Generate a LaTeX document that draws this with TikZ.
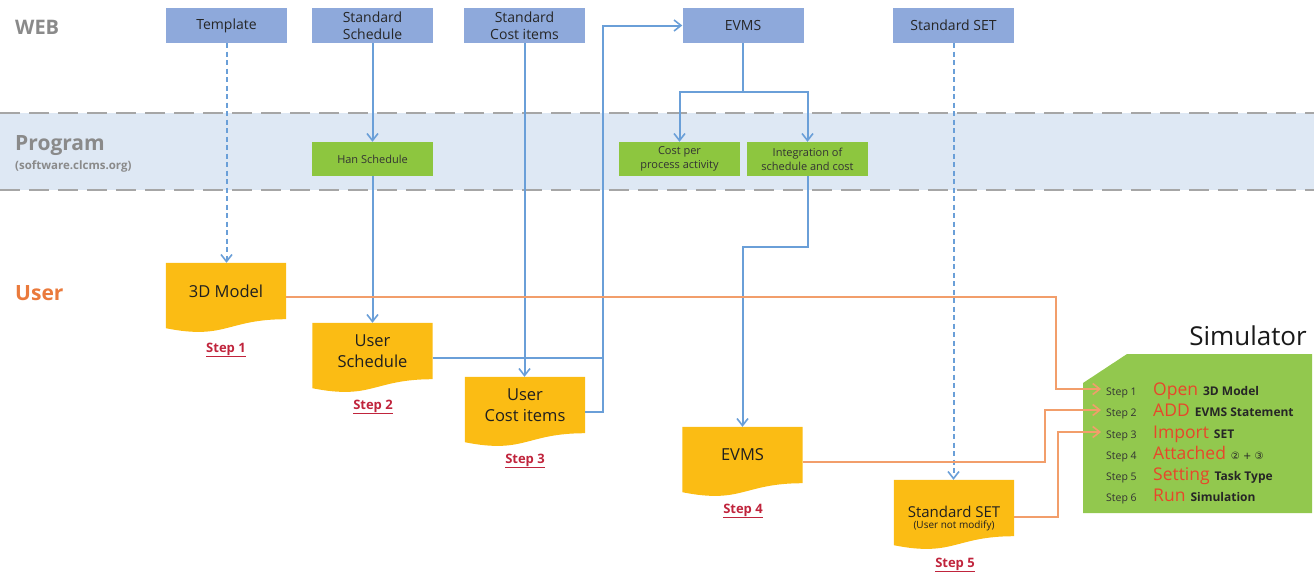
\documentclass[tikz,border=0pt]{standalone}
\usepackage{fontspec}
\setmainfont{Open Sans}
\newfontfamily\dejavu{DejaVu Sans}
\usetikzlibrary{arrows.meta,calc,backgrounds}
\definecolor{webblue}{HTML}{8EA9DB}
\definecolor{pgreen}{HTML}{8DC63F}
\definecolor{simgreen}{HTML}{92C84E}
\definecolor{docy}{HTML}{FBBC14}
\definecolor{band}{HTML}{DEE8F4}
\definecolor{dashgray}{HTML}{A6A6A6}
\definecolor{lineblue}{HTML}{6A9FD8}
\definecolor{lineor}{HTML}{F29E6B}
\definecolor{stepred}{HTML}{C0243C}
\definecolor{simred}{HTML}{E8462A}
\definecolor{labgray}{HTML}{8A8A8A}
\definecolor{userorange}{HTML}{EA7A3C}
\newcommand\fsz[2]{\fontsize{#1}{#2}\selectfont}
\newcommand\docbg[1]{\fill[docy] (#1.north west) -- (#1.north east) -- (#1.south east)
  .. controls ($(#1.south east)+(-60,0)$) and ($(#1.south east)+(-60,21)$) .. ($(#1.south west)+(0,9)$) -- cycle;}
\tikzset{
  webbox/.style={fill=webblue, minimum width=121pt, minimum height=35pt, inner sep=0pt, align=center, font=\fsz{14}{17}, text=black!85},
  progbox/.style={fill=pgreen, minimum width=121pt, minimum height=34pt, inner sep=0pt, align=center, font=\fsz{11}{14}, text=black!80},
  docnode/.style={minimum width=120pt, minimum height=56pt, inner sep=0pt, align=center, font=\fsz{16.5}{21}, text=black!88},
  steplab/.style={font=\bfseries\fsz{13}{16}, text=stepred},
  lanelab/.style={font=\bfseries\fsz{20}{24}, text=labgray, anchor=west, inner sep=0pt},
  bline/.style={draw=lineblue, line width=2pt},
  barrow/.style={bline, -{Straight Barb[length=7pt,width=11pt,line width=1.6pt]}},
  dbarrow/.style={barrow, dash pattern=on 5pt off 3.5pt},
  oline/.style={draw=lineor, line width=2pt, -{Straight Barb[length=7pt,width=11pt,line width=1.6pt]}},
  bandline/.style={draw=dashgray, line width=2.6pt, dash pattern=on 20pt off 9pt},
  simrow/.style={anchor=base west, inner sep=0pt},
}
\newcommand\srow[3]{\makebox[47pt][l]{\fsz{10.5}{12}\color{black!80}#1}{\fsz{17.5}{20}\color{simred}#2}\hspace{5pt}{\bfseries\fsz{12}{14}\color{black!85}#3}}
\begin{document}
\begin{tikzpicture}[x=1pt,y=-1pt]
\useasboundingbox (0,0) rectangle (1314,574);
% program band
\fill[band] (0,113) rectangle (1314,190);
\draw[bandline] (0,113) -- (1314,113);
\draw[bandline] (0,190) -- (1314,190);
% lane labels
\node[lanelab] (lweb) at (15,27) {WEB};
\node[lanelab, font=\bfseries\fsz{21}{24}] (lprog) at (15,146) {Program};
\node[lanelab, font=\bfseries\fsz{11.5}{14}] (lprog2) at (15,166) {(software.clcms.org)};
\node[lanelab, text=userorange, font=\bfseries\fsz{21}{24}] (luser) at (15,293) {User};
% web boxes
\node[webbox] (tpl) at (226.5,25.5) {Template};
\node[webbox] (ssch) at (372.5,25.5) {Standard\\Schedule};
\node[webbox] (scost) at (524.5,25.5) {Standard\\Cost items};
\node[webbox] (wevms) at (743,25.5) {EVMS};
\node[webbox] (sset) at (953.5,25.5) {Standard SET};
% program boxes
\node[progbox] (han) at (372.5,159) {Han Schedule};
\node[progbox] (cpa) at (679.5,159) {Cost per\\process activity};
\node[progbox] (isc) at (807.5,159) {Integration of\\schedule and cost};
% user documents
\node[docnode] (m3d) at (226,291) {3D Model};
\node[docnode] (us) at (372.5,351) {User\\Schedule};
\node[docnode] (uci) at (525,405) {User\\Cost items};
\node[docnode] (ue) at (742.5,455) {EVMS};
\node[docnode] (uss) at (954,508) {};
\node[align=center, inner sep=0pt, text=black!88] (usstxt) at (954,518) {{\fsz{15}{18}Standard SET}\\[-1pt]{\fsz{10}{12}(User not modify)}};
\begin{scope}[on background layer]
\docbg{m3d}\docbg{us}\docbg{uci}\docbg{ue}\docbg{uss}
\end{scope}
% step labels
\node[steplab] (st1) at (226,350) {\underline{Step 1}};
\node[steplab] (st2) at (373,407) {\underline{Step 2}};
\node[steplab] (st3) at (525,461) {\underline{Step 3}};
\node[steplab] (st4) at (743,511) {\underline{Step 4}};
\node[steplab] (st5) at (955,565) {\underline{Step 5}};
% simulator
\node[inner sep=0pt, font=\fsz{26}{30}, text=black!90] (simt) at (1248,336) {Simulator};
\fill[simgreen] (1127,354) -- (1312,354) -- (1312,513) -- (1083,513) -- (1083,383) -- cycle;
\node[simrow] (s1) at (1106,395) {\srow{Step 1}{Open}{3D Model}};
\node[simrow] (s2) at (1106,416) {\srow{Step 2}{ADD}{EVMS Statement}};
\node[simrow] (s3) at (1106,438) {\srow{Step 3}{Import}{SET}};
\node[simrow] (s4) at (1106,459) {\srow{Step 4}{Attached}{\mdseries\dejavu\fsz{10}{12}② + ③}};
\node[simrow] (s5) at (1106,480) {\srow{Step 5}{Setting}{Task Type}};
\node[simrow] (s6) at (1106,501) {\srow{Step 6}{Run}{Simulation}};
\coordinate (s1a) at ([xshift=-5pt,yshift=6pt]s1.base west);
\coordinate (s2a) at ([xshift=-5pt,yshift=6pt]s2.base west);
\coordinate (s3a) at ([xshift=-5pt,yshift=6pt]s3.base west);
% junction coordinates
\coordinate (jb) at (603,0);
\coordinate (je) at (0,92);
\coordinate (ji) at (0,247);
\coordinate (jo1) at (1056,0);
\coordinate (jo2) at (1045,0);
\coordinate (jo3) at (1058,0);
% blue connectors
\draw[dbarrow] (tpl.south) -- (tpl.south |- m3d.north);
\draw[barrow] (ssch.south) -- (han.north);
\draw[barrow] (han.south) -- (us.north);
\draw[barrow] (scost.south) -- (scost.south |- uci.north);
\coordinate (usr) at ([yshift=-7pt]us.east);
\coordinate (ucir) at ([yshift=-7pt]uci.east);
\draw[bline] (usr) -- (usr -| jb);
\draw[barrow] (ucir) -| (jb |- wevms.west) -- (wevms.west);
\draw[bline] (wevms.south) -- (wevms.south |- je);
\draw[barrow] (wevms.south |- je) -| (cpa.north);
\draw[barrow] (wevms.south |- je) -| (isc.north);
\draw[barrow] (isc.south) -- (isc.south |- ji) -| (ue.north);
\draw[dbarrow] (sset.south) -- (sset.south |- uss.north);
% orange connectors
\coordinate (m3dr) at ([yshift=-6pt]m3d.east);
\coordinate (uer) at ([yshift=-7pt]ue.east);
\coordinate (ussr) at ([yshift=-9pt]uss.east);
\draw[oline] (m3dr) -| (jo1 |- s1a) -- (s1a);
\draw[oline] (uer) -| (jo2 |- s2a) -- (s2a);
\draw[oline] (ussr) -| (jo3 |- s3a) -- (s3a);
\end{tikzpicture}
\end{document}
